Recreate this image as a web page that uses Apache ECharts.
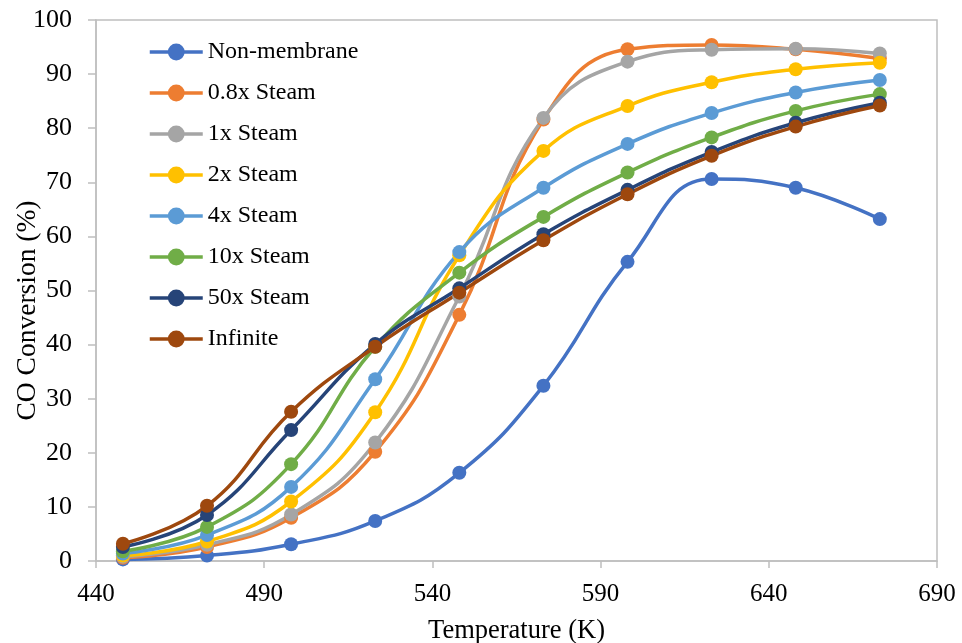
<!DOCTYPE html>
<html>
<head>
<meta charset="utf-8">
<script src="https://cdn.jsdelivr.net/npm/echarts@6/dist/echarts.min.js"></script>
<style>
  html, body { margin: 0; padding: 0; background: #fff; }
  #chart { width: 962px; height: 643px; }
</style>
</head>
<body>
<div id="chart"></div>
<script>
// Reactor temperature (K)
const temps = [448, 473, 498, 523, 548, 573, 598, 623, 648, 673];

// CO conversion (%) for each sweep-gas case
const nonMembrane = [0.3, 1.0, 3.1, 7.4, 16.3, 32.4, 55.3, 70.6, 69.0, 63.2];
const steam08     = [0.6, 2.6, 8.0, 20.2, 45.5, 81.6, 94.6, 95.4, 94.6, 92.9];
const steam1      = [0.8, 3.0, 8.6, 21.9, 48.9, 81.9, 92.3, 94.5, 94.7, 93.8];
const steam2      = [1.0, 3.6, 11.0, 27.5, 56.5, 75.8, 84.1, 88.5, 90.9, 92.1];
const steam4      = [1.4, 4.8, 13.7, 33.6, 57.1, 69.0, 77.1, 82.8, 86.6, 88.9];
const steam10     = [1.8, 6.3, 17.9, 39.6, 53.3, 63.6, 71.8, 78.3, 83.2, 86.3];
const steam50     = [2.6, 8.5, 24.2, 40.1, 50.4, 60.4, 68.6, 75.6, 81.0, 84.7];
const infinite    = [3.2, 10.2, 27.6, 39.6, 49.6, 59.3, 67.8, 74.9, 80.3, 84.2];

const seriesNames = ['Non-membrane', '0.8x Steam', '1x Steam', '2x Steam',
                     '4x Steam', '10x Steam', '50x Steam', 'Infinite'];
const seriesValues = [nonMembrane, steam08, steam1, steam2, steam4, steam10, steam50, infinite];
const seriesColors = ['#4472C4', '#ED7D31', '#A5A5A5', '#FFC000',
                      '#5B9BD5', '#70AD47', '#264478', '#9E480E'];

const FONT = '"Liberation Serif", "Times New Roman", serif';
const AXIS_GRAY = '#BFBFBF';

const chart = echarts.init(document.getElementById('chart'), null, { renderer: 'canvas' });

chart.setOption({
  animation: false,
  backgroundColor: '#ffffff',
  textStyle: { fontFamily: FONT, color: '#000' },
  grid: {
    left: 96, right: 25, top: 20, bottom: 82,
    containLabel: false, outerBoundsMode: 'none',
    show: true, borderColor: AXIS_GRAY, borderWidth: 1.5, backgroundColor: 'transparent'
  },
  legend: {
    orient: 'vertical',
    left: 148, top: 40, padding: 0,
    itemWidth: 53, itemHeight: 21, itemGap: 17,
    lineStyle: { width: 3.5 },
    textStyle: { fontFamily: FONT, fontSize: 24, color: '#000' },
    data: seriesNames
  },
  xAxis: {
    type: 'value',
    min: 440, max: 690, interval: 50,
    name: 'Temperature (K)',
    nameLocation: 'middle', nameGap: 57, nameMoveOverlap: false,
    nameTextStyle: { fontFamily: FONT, fontSize: 26.5, color: '#000' },
    axisLine: { show: true, lineStyle: { color: AXIS_GRAY, width: 1.5 } },
    axisTick: { show: true, length: 7, lineStyle: { color: AXIS_GRAY, width: 1.5 } },
    axisLabel: { fontFamily: FONT, fontSize: 25, color: '#000', margin: 21 },
    splitLine: { show: false }
  },
  yAxis: {
    type: 'value',
    min: 0, max: 100, interval: 10,
    name: 'CO Conversion (%)',
    nameLocation: 'middle', nameGap: 54, nameRotate: 90, nameMoveOverlap: false,
    nameTextStyle: { fontFamily: FONT, fontSize: 27.5, color: '#000', padding: [0, 40, 0, 0] },
    axisLine: { show: true, lineStyle: { color: AXIS_GRAY, width: 1.5 } },
    axisTick: { show: true, length: 8, lineStyle: { color: AXIS_GRAY, width: 1.5 } },
    axisLabel: { fontFamily: FONT, fontSize: 26, color: '#000', margin: 24 },
    splitLine: { show: false }
  },
  series: seriesNames.map((name, i) => ({
    name,
    type: 'line',
    smooth: 0.45,
    symbol: 'circle',
    symbolSize: 14,
    lineStyle: { width: 3.5, color: seriesColors[i] },
    itemStyle: { color: seriesColors[i] },
    data: temps.map((t, j) => [t, seriesValues[i][j]])
  }))
});
</script>
</body>
</html>
